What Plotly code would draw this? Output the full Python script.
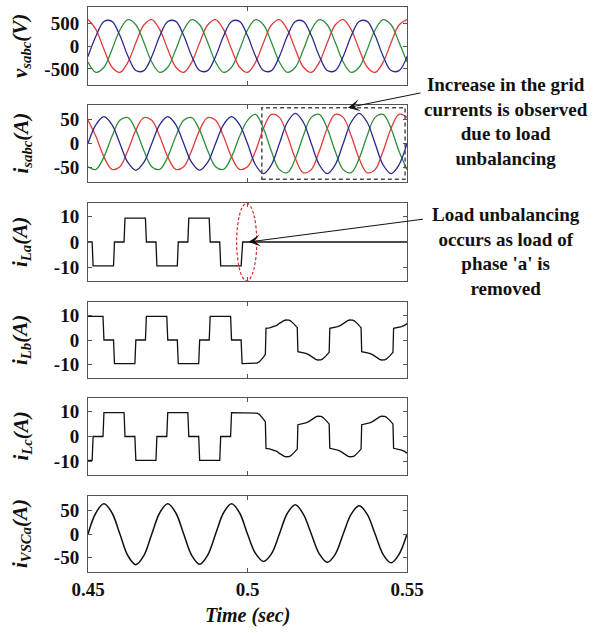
import plotly.graph_objects as go

# ---------------------------------------------------------------- data
# sampling instants of the sinusoidal records (s), 2.5 ms apart
T_SIN = [0.45, 0.4525, 0.455, 0.4575, 0.46, 0.4625, 0.465, 0.4675,
         0.47, 0.4725, 0.475, 0.4775, 0.48, 0.4825, 0.485, 0.4875,
         0.49, 0.4925, 0.495, 0.4975, 0.5, 0.5025, 0.505, 0.5075,
         0.51, 0.5125, 0.515, 0.5175, 0.52, 0.5225, 0.525, 0.5275,
         0.53, 0.5325, 0.535, 0.5375, 0.54, 0.5425, 0.545, 0.5475, 0.55]

# grid phase voltages (V)
V_SA = [576, 357, -71, -457, -576, -357, 71, 457,
        576, 357, -71, -457, -576, -357, 71, 457,
        576, 357, -71, -457, -576, -357, 71, 457,
        576, 357, -71, -457, -576, -357, 71, 457,
        576, 357, -71, -457, -576, -357, 71, 457, 576]
V_SB = [-227, 217, 534, 538, 227, -217, -534, -538,
        -227, 217, 534, 538, 227, -217, -534, -538,
        -227, 217, 534, 538, 227, -217, -534, -538,
        -227, 217, 534, 538, 227, -217, -534, -538,
        -227, 217, 534, 538, 227, -217, -534, -538, -227]
V_SC = [-349, -574, -463, -81, 349, 574, 463, 81,
        -349, -574, -463, -81, 349, 574, 463, 81,
        -349, -574, -463, -81, 349, 574, 463, 81,
        -349, -574, -463, -81, 349, 574, 463, 81,
        -349, -574, -463, -81, 349, 574, 463, 81, -349]

# grid currents (A)
I_SA = [48.5, 14.5, -28, -54.1, -48.5, -14.5, 28, 54.1,
        48.5, 14.5, -28, -54.1, -48.5, -14.5, 28, 54.1,
        48.5, 14.5, -28, -54.1, -48.5, -16.3, 31.5, 60.9,
        54.6, 16.3, -31.5, -60.9, -54.6, -16.3, 31.5, 60.9,
        54.6, 16.3, -31.5, -60.9, -54.6, -16.3, 31.5, 60.9, 54.6]
I_SB = [0, 39.6, 56, 39.6, 0, -39.6, -56, -39.6,
        0, 39.6, 56, 39.6, 0, -39.6, -56, -39.6,
        0, 39.6, 56, 39.6, 0, -44.5, -63, -44.5,
        0, 44.5, 63, 44.5, 0, -44.5, -63, -44.5,
        0, 44.5, 63, 44.5, 0, -44.5, -63, -44.5, 0]
I_SC = [-48.5, -54.1, -28, 14.5, 48.5, 54.1, 28, -14.5,
        -48.5, -54.1, -28, 14.5, 48.5, 54.1, 28, -14.5,
        -48.5, -54.1, -28, 14.5, 48.5, 60.9, 31.5, -16.3,
        -54.6, -60.9, -31.5, 16.3, 54.6, 60.9, 31.5, -16.3,
        -54.6, -60.9, -31.5, 16.3, 54.6, 60.9, 31.5, -16.3, -54.6]

# phase-a VSC current (A)
I_VSCA = [0, 45, 64, 45, 0, -46, -65, -46,
          0, 45, 64, 45, 0, -45, -64, -45,
          0, 45, 64, 45, 0, -41, -58, -42,
          0, 44, 62, 42, 0, -42, -60, -43,
          0, 42, 60, 42, 0, -43, -61, -43, 0]

# load current, phase a (breakpoints, s / A)
T_LA = [0.45, 0.4513, 0.4516, 0.4580, 0.4583, 0.4613, 0.4616, 0.4680,
        0.4683, 0.4713, 0.4716, 0.4780, 0.4783, 0.4813, 0.4816, 0.4880,
        0.4883, 0.4913, 0.4916, 0.4980, 0.4985, 0.55]
I_LA = [0, 0, -9.5, -9.5, 0, 0, 9.5, 9.5,
        0, 0, -9.5, -9.5, 0, 0, 9.5, 9.5,
        0, 0, -9.5, -9.5, 0, 0]

# load current, phase b
T_LB = [0.45, 0.4547, 0.4550, 0.4580, 0.4583, 0.4647, 0.4650, 0.4680,
        0.4683, 0.4747, 0.4750, 0.4780, 0.4783, 0.4847, 0.4850, 0.4880,
        0.4883, 0.4947, 0.4950, 0.4980, 0.4983,
        0.5022, 0.5030, 0.5037, 0.5043, 0.5050, 0.5056,
        0.5058, 0.5069, 0.5083, 0.5092, 0.5099, 0.5107, 0.5114, 0.5120, 0.5125,
        0.5130, 0.5135, 0.5141, 0.5146, 0.5153, 0.5156,
        0.5158, 0.5169, 0.5183, 0.5192, 0.5199, 0.5207, 0.5214, 0.5220, 0.5225,
        0.5230, 0.5235, 0.5241, 0.5246, 0.5253, 0.5256,
        0.5258, 0.5269, 0.5283, 0.5292, 0.5299, 0.5307, 0.5314, 0.5320, 0.5325,
        0.5330, 0.5335, 0.5341, 0.5346, 0.5353, 0.5356,
        0.5358, 0.5369, 0.5383, 0.5392, 0.5399, 0.5407, 0.5414, 0.5420, 0.5425,
        0.5430, 0.5435, 0.5441, 0.5446, 0.5453, 0.5456,
        0.5458, 0.5469, 0.5483, 0.5492, 0.5500]
I_LB = [9.5, 9.5, 0, 0, -9.5, -9.5, 0, 0,
        9.5, 9.5, 0, 0, -9.5, -9.5, 0, 0,
        9.5, 9.5, 0, 0, -9.5,
        -9.5, -9.3, -8.8, -8.0, -6.9, -5.8,
        4.7, 4.9, 5.4, 5.9, 6.6, 7.3, 7.8, 8.05, 8.1,
        8.0, 7.7, 7.1, 6.4, 5.4, 5.0,
        -4.7, -4.9, -5.4, -5.9, -6.6, -7.3, -7.8, -8.05, -8.1,
        -8.0, -7.7, -7.1, -6.4, -5.4, -5.0,
        4.7, 4.9, 5.4, 5.9, 6.6, 7.3, 7.8, 8.05, 8.1,
        8.0, 7.7, 7.1, 6.4, 5.4, 5.0,
        -4.7, -4.9, -5.4, -5.9, -6.6, -7.3, -7.8, -8.05, -8.1,
        -8.0, -7.7, -7.1, -6.4, -5.4, -5.0,
        4.7, 4.9, 5.4, 5.9, 6.6]

# load current, phase c
T_LC = [0.45, 0.4513, 0.4516, 0.4547, 0.4550, 0.4613, 0.4616, 0.4647,
        0.4650, 0.4713, 0.4716, 0.4747, 0.4750, 0.4813, 0.4816, 0.4847,
        0.4850, 0.4913, 0.4916, 0.4947, 0.4950,
        0.5022, 0.5030, 0.5037, 0.5043, 0.5050, 0.5056,
        0.5058, 0.5069, 0.5083, 0.5092, 0.5099, 0.5107, 0.5114, 0.5120, 0.5125,
        0.5130, 0.5135, 0.5141, 0.5146, 0.5153, 0.5156,
        0.5158, 0.5169, 0.5183, 0.5192, 0.5199, 0.5207, 0.5214, 0.5220, 0.5225,
        0.5230, 0.5235, 0.5241, 0.5246, 0.5253, 0.5256,
        0.5258, 0.5269, 0.5283, 0.5292, 0.5299, 0.5307, 0.5314, 0.5320, 0.5325,
        0.5330, 0.5335, 0.5341, 0.5346, 0.5353, 0.5356,
        0.5358, 0.5369, 0.5383, 0.5392, 0.5399, 0.5407, 0.5414, 0.5420, 0.5425,
        0.5430, 0.5435, 0.5441, 0.5446, 0.5453, 0.5456,
        0.5458, 0.5469, 0.5483, 0.5492, 0.5500]
I_LC = [-9.5, -9.5, 0, 0, 9.5, 9.5, 0, 0,
        -9.5, -9.5, 0, 0, 9.5, 9.5, 0, 0,
        -9.5, -9.5, 0, 0, 9.5,
        9.5, 9.3, 8.8, 8.0, 6.9, 5.8,
        -4.7, -4.9, -5.4, -5.9, -6.6, -7.3, -7.8, -8.05, -8.1,
        -8.0, -7.7, -7.1, -6.4, -5.4, -5.0,
        4.7, 4.9, 5.4, 5.9, 6.6, 7.3, 7.8, 8.05, 8.1,
        8.0, 7.7, 7.1, 6.4, 5.4, 5.0,
        -4.7, -4.9, -5.4, -5.9, -6.6, -7.3, -7.8, -8.05, -8.1,
        -8.0, -7.7, -7.1, -6.4, -5.4, -5.0,
        4.7, 4.9, 5.4, 5.9, 6.6, 7.3, 7.8, 8.05, 8.1,
        8.0, 7.7, 7.1, 6.4, 5.4, 5.0,
        -4.7, -4.9, -5.4, -5.9, -6.6]

X_TICKS = [0.45, 0.5, 0.55]
X_TICK_TEXT = ["0.45", "0.5", "0.55"]
Y_TICKS = [[-500, 0, 500], [-50, 0, 50], [-10, 0, 10],
           [-10, 0, 10], [-10, 0, 10], [-50, 0, 50]]
Y_TICK_TEXT = [["-500", "0", "500"], ["-50", "0", "50"], ["-10", "0", "10"],
               ["-10", "0", "10"], ["-10", "0", "10"], ["-50", "0", "50"]]
Y_LABELS = ["v<sub>sabc</sub>(V)", "i<sub>sabc</sub>(A)", "i<sub>La</sub>(A)",
            "i<sub>Lb</sub>(A)", "i<sub>Lc</sub>(A)", "i<sub>VSCa</sub>(A)"]

UNBALANCE_T = 0.4985          # instant the phase-a load is removed
ZOOM_BOX = (0.5045, 0.5494, -75, 75)

# ---------------------------------------------------------------- style
W, H = 595, 633
SERIF = "Liberation Serif"
RED, BLUE, GREEN, BLACK = "#e23b3b", "#2a2a8c", "#2f8f3a", "#111111"
AXIS_COL = "#555555"

PLOT_L, PLOT_R = 88, 407
PANELS_PX = [(7, 85), (105, 182), (203, 281), (302, 378), (398, 475), (496, 572)]
Y_RANGES = [(-850, 850), (-80.5, 80.5), (-15.5, 15.5),
            (-15.3, 15.3), (-15.3, 15.3), (-80.5, 80.5)]

fig = go.Figure()


def axis_names(i):
    return ("x" if i == 1 else f"x{i}"), ("y" if i == 1 else f"y{i}")


def add_line(i, x, y, color, width=1.3, shape="linear"):
    xa, ya = axis_names(i)
    fig.add_trace(go.Scatter(
        x=x, y=y, mode="lines", xaxis=xa, yaxis=ya,
        line=dict(color=color, width=width, shape=shape, smoothing=1),
        showlegend=False, hoverinfo="skip"))


add_line(1, T_SIN, V_SA, RED, shape="spline")
add_line(1, T_SIN, V_SC, GREEN, shape="spline")
add_line(1, T_SIN, V_SB, BLUE, shape="spline")
add_line(2, T_SIN, I_SA, RED, shape="spline")
add_line(2, T_SIN, I_SC, GREEN, shape="spline")
add_line(2, T_SIN, I_SB, BLUE, shape="spline")
add_line(3, T_LA, I_LA, BLACK)
add_line(4, T_LB, I_LB, BLACK)
add_line(5, T_LC, I_LC, BLACK)
add_line(6, T_SIN, I_VSCA, BLACK, width=1.5, shape="spline")

tick_font = dict(family=SERIF, size=19, color=BLACK, weight="bold")
layout = dict(width=W, height=H, margin=dict(l=0, r=0, t=0, b=0, autoexpand=False),
              paper_bgcolor="white", plot_bgcolor="white")

for i, (top, bot) in enumerate(PANELS_PX, start=1):
    xk = "xaxis" if i == 1 else f"xaxis{i}"
    yk = "yaxis" if i == 1 else f"yaxis{i}"
    xa, ya = axis_names(i)
    layout[xk] = dict(
        domain=[PLOT_L / W, PLOT_R / W], range=[0.45, 0.55], anchor=ya,
        tickvals=X_TICKS, ticktext=X_TICK_TEXT, showticklabels=(i == 6),
        ticks="inside", ticklen=4, tickcolor=AXIS_COL, tickwidth=1,
        showline=True, linecolor=AXIS_COL, linewidth=1, mirror="ticks",
        showgrid=False, zeroline=False, tickfont=tick_font, automargin=False)
    layout[yk] = dict(
        domain=[1 - bot / H, 1 - top / H], range=list(Y_RANGES[i - 1]), anchor=xa,
        tickvals=Y_TICKS[i - 1], ticktext=Y_TICK_TEXT[i - 1],
        ticks="inside", ticklen=4, tickcolor=AXIS_COL, tickwidth=1,
        showline=True, linecolor=AXIS_COL, linewidth=1, mirror="ticks",
        showgrid=False, zeroline=False, tickfont=tick_font, ticklabelstandoff=4,
        automargin=False)

annotations = []
for i, (top, bot) in enumerate(PANELS_PX):
    annotations.append(dict(
        x=21 / W, y=1 - (top + bot) / 2 / H, xref="paper", yref="paper",
        text=f"<b><i>{Y_LABELS[i]}</i></b>", textangle=-90, showarrow=False,
        xanchor="center", yanchor="middle",
        font=dict(family=SERIF, size=21, color=BLACK)))

annotations.append(dict(
    x=(PLOT_L + PLOT_R) / 2 / W, y=1 - 615 / H, xref="paper", yref="paper",
    text="<b><i>Time (sec)</i></b>", showarrow=False,
    xanchor="center", yanchor="middle",
    font=dict(family=SERIF, size=20, color=BLACK)))

note_font = dict(family=SERIF, size=19, color=BLACK)
annotations.append(dict(
    x=506 / W, y=1 - 121.7 / H, xref="paper", yref="paper", showarrow=False,
    text="<b>Increase in the grid<br>currents is observed<br>due to load<br>unbalancing</b>",
    align="center", xanchor="center", yanchor="middle", font=note_font))
annotations.append(dict(
    x=506 / W, y=1 - 251.7 / H, xref="paper", yref="paper", showarrow=False,
    text="<b>Load unbalancing<br>occurs as load of<br>phase 'a' is<br>removed</b>",
    align="center", xanchor="center", yanchor="middle", font=note_font))

# arrows pointing at the zoomed region and at the switching instant
annotations.append(dict(
    x=0.5315, y=ZOOM_BOX[3], xref="x2", yref="y2", text="",
    showarrow=True, ax=74, ay=-15, arrowhead=3, arrowsize=2, arrowwidth=1,
    arrowcolor=BLACK, standoff=0))
annotations.append(dict(
    x=0.5003, y=0, xref="x3", yref="y3", text="",
    showarrow=True, ax=176, ay=-23, arrowhead=3, arrowsize=2, arrowwidth=1,
    arrowcolor=BLACK, standoff=0))

layout["annotations"] = annotations
layout["shapes"] = [
    dict(type="rect", xref="x2", yref="y2",
         x0=ZOOM_BOX[0], x1=ZOOM_BOX[1], y0=ZOOM_BOX[2], y1=ZOOM_BOX[3],
         line=dict(color="#4a4a5a", width=1.5, dash="4px,3px")),
    dict(type="circle", xref="x3", yref="y3",
         x0=UNBALANCE_T - 0.0019, x1=UNBALANCE_T + 0.0044, y0=-15.4, y1=15.4,
         line=dict(color="#d62a2a", width=1.2, dash="3px,2px")),
]

fig.update_layout(**layout)
fig.write_html("out.html", config={"displayModeBar": False})
